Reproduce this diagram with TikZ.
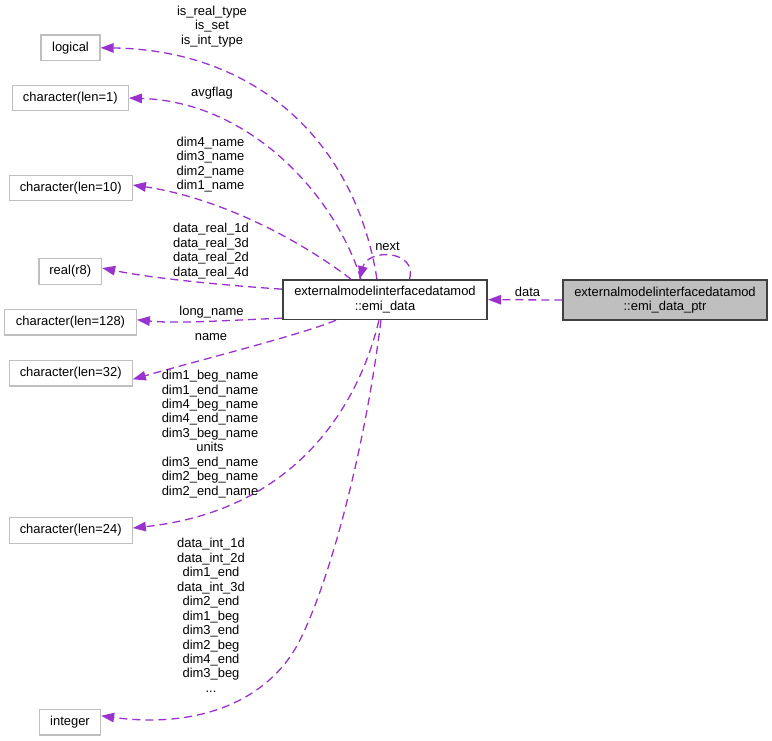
\documentclass[tikz,border=0pt]{standalone}
\usepackage{fontspec}
\setmainfont{Liberation Sans}
\usetikzlibrary{arrows.meta}
\definecolor{edgecol}{HTML}{9A32CD}
\definecolor{leafcol}{HTML}{BFBFBF}
\definecolor{rootcol}{HTML}{404040}
\begin{document}
\begin{tikzpicture}[x=1bp,y=-1bp,
  every node/.style={font=\fontsize{13}{14.5}\selectfont, inner sep=0pt, text=black},
  leaf/.style={draw=leafcol, line width=1.3bp, minimum height=25.5bp, fill=white},
  cls/.style={draw=rootcol, line width=1.6bp, minimum height=39.5bp, align=center},
  lbl/.style={align=center},
  edgeline/.style={draw=edgecol, line width=1.3bp, dash pattern=on 8bp off 5bp},
  edge/.style={edgeline, -{Triangle[length=13bp,width=9.5bp,fill=edgecol]}}
]
\useasboundingbox (0,0) rectangle (772,741);

% nodes
\node[leaf, minimum width=59bp] (logical) at (70.5,47.8) {logical};
\node[leaf, minimum width=116bp] (c1) at (70.3,98) {character(len=1)};
\node[leaf, minimum width=123bp] (c10) at (70.7,188) {character(len=10)};
\node[leaf, minimum width=62.5bp] (real) at (70.3,271.5) {real(r8)};
\node[leaf, minimum width=131.5bp] (c128) at (70.5,322.3) {character(len=128)};
\node[leaf, minimum width=123bp] (c32) at (70.7,373.3) {character(len=32)};
\node[leaf, minimum width=123bp] (c24) at (70.7,530.5) {character(len=24)};
\node[leaf, minimum width=61bp] (int) at (70,722.3) {integer};
\node[cls, minimum width=204.5bp] (emi) at (385,299.7) {externalmodelinterfacedatamod\\::emi\_data};
\node[cls, minimum width=203.5bp, fill=leafcol] (ptr) at (665,300) {externalmodelinterfacedatamod\\::emi\_data\_ptr};

% anchor points on emi_data
\coordinate (eL) at ([xshift=95bp]emi.north west);
\coordinate (eA) at ([xshift=79bp]emi.north west);
\coordinate (e10) at ([xshift=69bp]emi.north west);
\coordinate (eN) at ([xshift=77.5bp]emi.north west);
\coordinate (eNs) at ([xshift=127.5bp]emi.north west);
\coordinate (eR) at ([yshift=-10bp]emi.north west);
\coordinate (eLN) at ([yshift=2bp]emi.south west);
\coordinate (eNm) at ([xshift=54bp]emi.south west);
\coordinate (e24) at ([xshift=97bp]emi.south west);
\coordinate (eI) at ([xshift=99bp]emi.south west);
\coordinate (iMid) at (300,640);

% edges
\draw[edge] (eL) .. controls (355,140) and (255,50) .. (logical.east);
\draw[edge] (eA) .. controls (335,195) and (250,102) .. (c1.east);
\draw[edge] (e10) .. controls (300,240) and (220,198) .. ([yshift=3bp]c10.east);
\draw[edge] (eR) .. controls (220,285) and (150,278) .. ([yshift=3.5bp]real.east);
\draw[edge] (eLN) .. controls (230,320) and (180,324) .. ([yshift=2.5bp]c128.east);
\draw[edge] (eNm) .. controls (300,335) and (200,360) .. ([yshift=-6bp]c32.east);
\draw[edge] (e24) .. controls (360,400) and (300,510) .. ([yshift=2.5bp]c24.east);
\draw[edge] (eI) .. controls (365,450) and (330,580) .. (iMid) .. controls (270,700) and (200,729) .. ([yshift=6.5bp]int.east);
\draw[edge] (eNs) .. controls (418,250) and (368,248) .. (eN);
\draw[edge] (ptr.west) -- (emi.east);

% labels
\node[lbl] (l1) at (212,26.5) {is\_real\_type\\is\_set\\is\_int\_type};
\node[lbl] (l2) at (212,93) {avgflag};
\node[lbl] (l3) at (210.5,164.5) {dim4\_name\\dim3\_name\\dim2\_name\\dim1\_name};
\node[lbl] (l4) at (211,251) {data\_real\_1d\\data\_real\_3d\\data\_real\_2d\\data\_real\_4d};
\node[lbl] (l5) at (211.5,312.5) {long\_name};
\node[lbl] (l6) at (211,337) {name};
\node[lbl] (l7) at (210,434) {dim1\_beg\_name\\dim1\_end\_name\\dim4\_beg\_name\\dim4\_end\_name\\dim3\_beg\_name\\units\\dim3\_end\_name\\dim2\_beg\_name\\dim2\_end\_name};
\node[lbl] (l8) at (211,615.5) {data\_int\_1d\\data\_int\_2d\\dim1\_end\\data\_int\_3d\\dim2\_end\\dim1\_beg\\dim3\_end\\dim2\_beg\\dim4\_end\\dim3\_beg\\...};
\node[lbl] (l9) at (387.5,246.5) {next};
\node[lbl] (l10) at (527.5,291.5) {data};
\end{tikzpicture}
\end{document}
